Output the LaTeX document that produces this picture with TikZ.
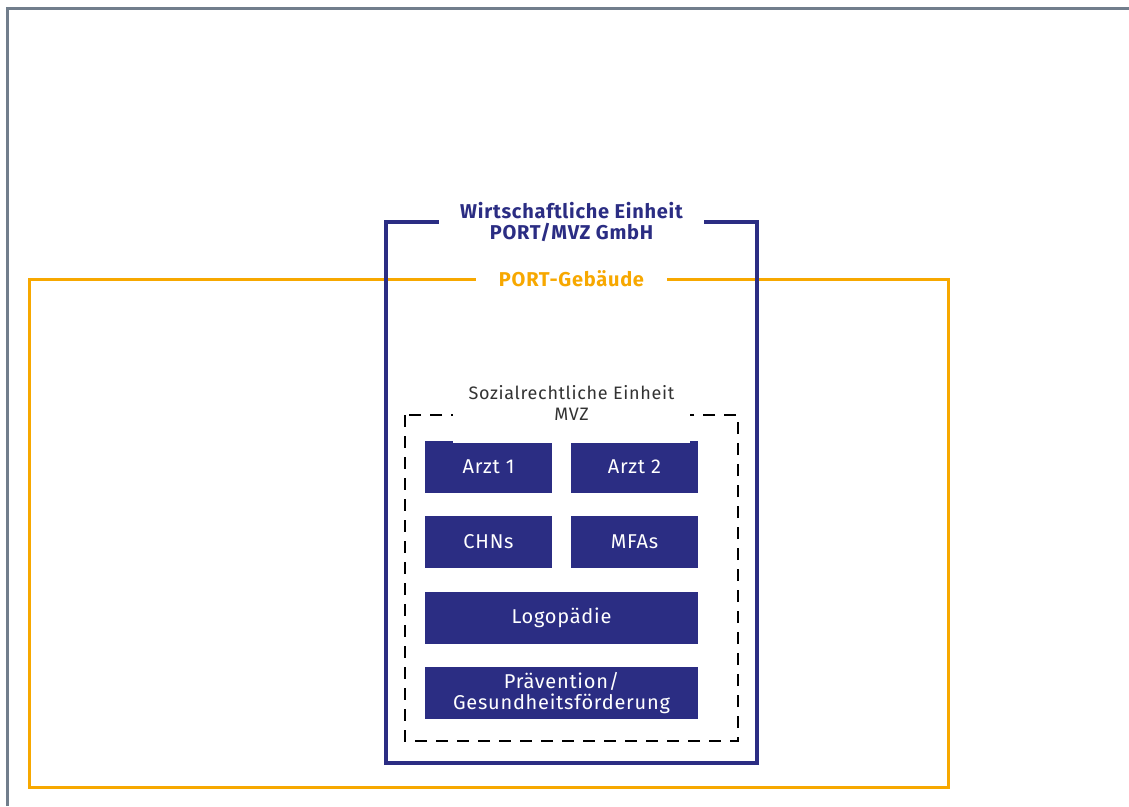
\documentclass[tikz,border=0pt]{standalone}
\usepackage{fontspec}
\setmainfont[LetterSpace=3.75]{Fira Sans}
\definecolor{portblau}{HTML}{2B2D83}
\definecolor{portgelb}{HTML}{F7A800}
\definecolor{rahmengrau}{HTML}{717E8C}
\begin{document}
\begin{tikzpicture}[x=1pt,y=-1pt,line join=miter,line cap=butt]
	\tikzset{every node/.style={font=\fontsize{20}{21}\selectfont,align=center,inner sep=0pt}}
	\tikzset{kasten/.style={fill=portblau,text=white,minimum height=52,minimum width=127}}
	\useasboundingbox (0,0) rectangle (1129,806);
	% Rahmen
	\draw[rahmengrau,line width=3] (7.5,806)--(7.5,8.5)--(1129,8.5);
	\draw[portgelb,line width=3] (29,279) rectangle (948,787);
	\draw[portblau,line width=4] (386,222) rectangle (757,763);
	\draw[black,line width=2.8,dash pattern=on 12 off 9] (405,415) rectangle (738,741);
	% Kaesten
	\foreach \n/\x/\y/\t in {arzt1/488.5/466.5/Arzt 1,arzt2/634.5/466.5/Arzt 2,chns/488.5/542/CHNs,mfas/634.5/542/MFAs}
		\node[kasten] (\n) at (\x,\y) {\t};
	\node[kasten,minimum width=273] (logo) at (561.5,618) {Logopädie};
	\node[kasten,minimum width=273] (praev) at (561.5,693) {Prävention/\\Gesundheitsförderung};
	% Beschriftungen
	\node[fill=white,minimum width=265,minimum height=44,text=portblau,font=\fontsize{20}{21}\selectfont\bfseries] (wirt) at (571.5,222) {Wirtschaftliche Einheit\\PORT/MVZ GmbH};
	\node[fill=white,minimum width=191,minimum height=20,text=portgelb,font=\fontsize{20}{21}\selectfont\bfseries] (geb) at (571.5,279) {PORT-Gebäude};
	\node[fill=white,minimum width=237,minimum height=80,text=black!80,font=\fontsize{18}{21}\selectfont] (sozial) at (571.5,403) {Sozialrechtliche Einheit\\MVZ};
\end{tikzpicture}
\end{document}
